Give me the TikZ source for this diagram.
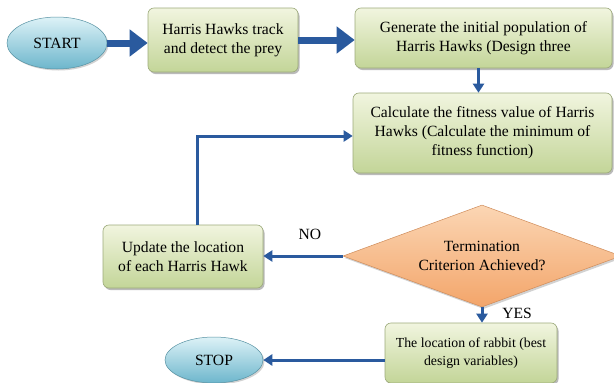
\documentclass[tikz,border=0pt]{standalone}
\usepackage{fontspec}
\setmainfont{Liberation Serif}
\usetikzlibrary{shapes.geometric,arrows.meta,shadows}
\definecolor{arrowblue}{HTML}{2A5A9E}
\definecolor{boxtop}{HTML}{F1F5DF}
\definecolor{boxbot}{HTML}{C3D598}
\definecolor{elltop}{HTML}{DDF2F7}
\definecolor{ellbot}{HTML}{6DB6CC}
\definecolor{diatop}{HTML}{FBD6B4}
\definecolor{diabot}{HTML}{F3A56A}
\tikzset{
  txt/.style={font=\fontsize{15.6}{19}\selectfont, align=center, text=black},
  greenbox/.style={txt, rectangle, rounded corners=6pt, draw=boxbot!80!black, line width=0.6pt,
    top color=boxtop, bottom color=boxbot, drop shadow={shadow xshift=1.5pt, shadow yshift=-2pt, fill=black!45, opacity=0.6}},
  oval/.style={txt, ellipse, draw=ellbot!80!black, line width=0.5pt, top color=elltop, bottom color=ellbot,
    drop shadow={shadow xshift=1.5pt, shadow yshift=-1.5pt, fill=black!35, opacity=0.5}},
  decision/.style={diamond, draw=diabot!85!black, line width=0.5pt, top color=diatop, bottom color=diabot,
    drop shadow={shadow xshift=1.5pt, shadow yshift=-2pt, fill=black!35, opacity=0.5}},
  bigarrow/.style={draw=arrowblue, line width=7pt, -{Triangle[length=18pt,width=26pt]}},
  thinarrow/.style={draw=arrowblue, line width=3pt, -{Triangle[length=9pt,width=11pt]}},
  lbl/.style={font=\fontsize{15.6}{18}\selectfont, text=black}
}
\begin{document}
\begin{tikzpicture}[x=1pt,y=-1pt]
\useasboundingbox (0,0) rectangle (614,383);
\clip (0,0) rectangle (614,383);
\fill[white] (0,0) rectangle (614,383);

\node[oval, minimum width=100pt, minimum height=52pt, inner sep=0pt] (start) at (57,43) {START};
\node[greenbox, minimum width=150pt, minimum height=64pt, inner sep=2pt] (b1) at (223,40)
  {Harris Hawks track\\and detect the prey};
\node[greenbox, minimum width=257pt, minimum height=60pt, inner sep=2pt] (b2) at (483.5,38)
  {Generate the initial population of\\Harris Hawks (Design three};
\node[greenbox, minimum width=259pt, minimum height=80pt, inner sep=2pt] (b3) at (482.5,133)
  {Calculate the fitness value of Harris\\Hawks (Calculate the minimum of\\fitness function)};
\node[greenbox, minimum width=160pt, minimum height=63pt, inner sep=2pt] (b4) at (183,256.5)
  {Update the location\\of each Harris Hawk};
\node[decision, minimum width=278pt, minimum height=102pt, inner sep=0pt,
  label={[txt, name=dectext]center:Termination\\Criterion Achieved?}] (dec) at (482,256) {};
\node[greenbox, minimum width=172pt, minimum height=60pt, inner sep=2pt,
  font=\fontsize{13.8}{18}\selectfont] (b5) at (471,353)
  {The location of rabbit (best\\design variables)};
\node[oval, minimum width=98pt, minimum height=46pt, inner sep=0pt] (stop) at (214,360) {STOP};

\coordinate (loopstart) at ([xshift=14pt]b4.north);
\coordinate (downtop) at ([xshift=-5pt]b2.south);

\draw[bigarrow] (start.east) -- (b1.west |- start.east);
\draw[bigarrow] (b1.east) -- (b2.west |- b1.east);
\draw[thinarrow] (downtop) -- (downtop |- b3.north);
\draw[thinarrow] (loopstart) |- ([yshift=-3pt]b3.west);
\draw[thinarrow] (dec.west) -- (b4.east |- dec.west);
\draw[thinarrow] (dec.south) -- (b5.north -| dec.south);
\draw[thinarrow] (b5.west |- stop.east) -- (stop.east);

\node[lbl] (no) at (310,234) {NO};
\node[lbl] (yes) at (517,313) {YES};
\end{tikzpicture}
\end{document}
